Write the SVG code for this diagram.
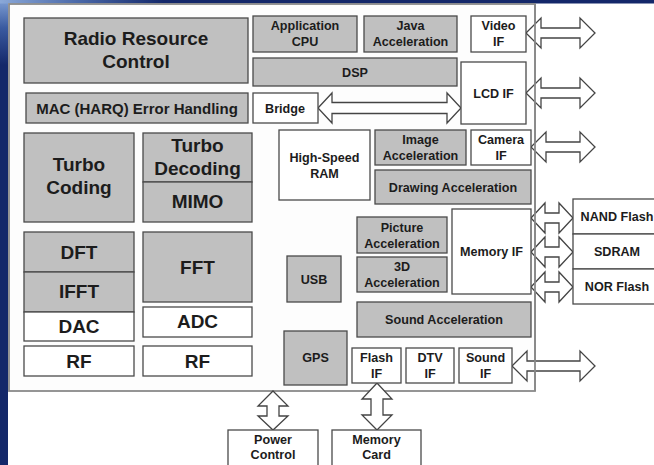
<svg xmlns="http://www.w3.org/2000/svg" width="654" height="465" viewBox="0 0 654 465">
<defs>
<linearGradient id="gLeft" x1="0" y1="0" x2="0" y2="1" gradientUnits="objectBoundingBox">
<stop offset="0" stop-color="#7f9fd4"/>
<stop offset="0.06" stop-color="#3a5aa0"/>
<stop offset="0.14" stop-color="#14286a"/>
<stop offset="1" stop-color="#14286a"/>
</linearGradient>
<linearGradient id="gTop" x1="0" y1="0" x2="1" y2="0">
<stop offset="0" stop-color="#8aa8d8"/>
<stop offset="0.12" stop-color="#4a68a8"/>
<stop offset="0.25" stop-color="#14286a"/>
<stop offset="1" stop-color="#14286a"/>
</linearGradient>
<style>
.g{fill:#c0c0c0;stroke:#4a4a4a;stroke-width:1.3}
.w{fill:#ffffff;stroke:#4a4a4a;stroke-width:1.3}
.ar{fill:#ffffff;stroke:#444444;stroke-width:1.3;stroke-linejoin:miter}
text{font-family:"Liberation Sans",Arial,sans-serif;font-weight:bold;fill:#1c1c1c;text-anchor:middle}
.b{font-size:19px}
.m{font-size:15px}
.s{font-size:12.6px}
</style>
</defs>
<rect x="0" y="0" width="654" height="465" fill="#ffffff"/>
<rect x="0" y="0" width="8" height="465" fill="url(#gLeft)"/>
<rect x="0" y="0" width="654" height="3.5" fill="url(#gTop)"/>
<rect x="9" y="4" width="526" height="387" fill="#fdfdfd" stroke="#8a8a8a" stroke-width="1.8"/>

<g id="connectors">
<path class="ar" d="M526 33 L541 18 L541 28 L580 28 L580 18 L595 33 L580 48 L580 38 L541 38 L541 48 Z"/>
<path class="ar" d="M526 93 L541 78 L541 88 L580 88 L580 78 L595 93 L580 108 L580 98 L541 98 L541 108 Z"/>
<path class="ar" d="M531 147 L546 132 L546 142 L580 142 L580 132 L595 147 L580 162 L580 152 L546 152 L546 162 Z"/>
<path class="ar" d="M512 366 L527 351 L527 361 L580 361 L580 351 L595 366 L580 381 L580 371 L527 371 L527 381 Z"/>
<path class="ar" d="M318 108 L332 93 L332 102.5 L447 102.5 L447 93 L461 108 L447 123 L447 113.5 L332 113.5 L332 123 Z"/>
<path class="ar" d="M531 218 L545 203 L545 213 L559 213 L559 203 L573 218 L559 233 L559 223 L545 223 L545 233 Z"/>
<path class="ar" d="M531 252 L545 237 L545 247 L559 247 L559 237 L573 252 L559 267 L559 257 L545 257 L545 267 Z"/>
<path class="ar" d="M531 287 L545 272 L545 282 L559 282 L559 272 L573 287 L559 302 L559 292 L545 292 L545 302 Z"/>
<path class="ar" d="M273 391 L288 406 L279 406 L279 416 L288 416 L273 430 L258 416 L267 416 L267 406 L258 406 Z"/>
<path class="ar" d="M377 383 L392 399 L383 399 L383 415 L392 415 L377 430 L362 415 L371 415 L371 399 L362 399 Z"/>
</g>
<line x1="535" y1="4" x2="535" y2="391" stroke="#8a8a8a" stroke-width="1.8"/>

<g id="rrc"><rect class="g" x="24" y="18" width="224" height="65"/><text class="b" x="136" y="45">Radio Resource</text><text class="b" x="136" y="68">Control</text></g>
<g id="mac"><rect class="g" x="26" y="93" width="222" height="30"/><text class="m" x="137" y="113.5">MAC (HARQ) Error Handling</text></g>
<g id="turbo-coding"><rect class="g" x="24" y="133" width="110" height="89"/><text class="b" x="79" y="171">Turbo</text><text class="b" x="79" y="194">Coding</text></g>
<g id="turbo-decoding"><rect class="g" x="143" y="133" width="109" height="49"/><text class="b" x="197.5" y="152">Turbo</text><text class="b" x="197.5" y="175">Decoding</text></g>
<g id="mimo"><rect class="g" x="143" y="182" width="109" height="40"/><text class="b" x="197.5" y="208">MIMO</text></g>
<g id="dft"><rect class="g" x="24" y="232" width="110" height="40"/><text class="b" x="79" y="258.5">DFT</text></g>
<g id="ifft"><rect class="g" x="24" y="272" width="110" height="40"/><text class="b" x="79" y="298">IFFT</text></g>
<g id="dac"><rect class="w" x="24" y="312" width="110" height="29"/><text class="b" x="79" y="332.5">DAC</text></g>
<g id="fft"><rect class="g" x="143" y="232" width="109" height="70"/><text class="b" x="197.5" y="273.5">FFT</text></g>
<g id="adc"><rect class="w" x="143" y="307" width="109" height="30"/><text class="b" x="197.5" y="327.5">ADC</text></g>
<g id="rf1"><rect class="w" x="24" y="346" width="110" height="30"/><text class="b" x="79" y="367.5">RF</text></g>
<g id="rf2"><rect class="w" x="143" y="346" width="109" height="30"/><text class="b" x="197.5" y="367.5">RF</text></g>

<g id="app-cpu"><rect class="g" x="253" y="16" width="104" height="36"/><text class="s" x="305" y="30">Application</text><text class="s" x="305" y="46">CPU</text></g>
<g id="java"><rect class="g" x="364" y="16" width="93" height="36"/><text class="s" x="410.5" y="30">Java</text><text class="s" x="410.5" y="46">Acceleration</text></g>
<g id="video-if"><rect class="w" x="471" y="16" width="55" height="36"/><text class="s" x="498.5" y="30">Video</text><text class="s" x="498.5" y="46">IF</text></g>
<g id="dsp"><rect class="g" x="253" y="58" width="204" height="28"/><text class="s" x="355" y="76.5">DSP</text></g>
<g id="lcd-if"><rect class="w" x="461" y="62" width="65" height="62"/><text class="s" x="493.5" y="97.5">LCD IF</text></g>
<g id="bridge"><rect class="w" x="253" y="93" width="65" height="30"/><text class="s" x="285" y="112.5">Bridge</text></g>
<g id="hs-ram"><rect class="w" x="279" y="130" width="91" height="70"/><text class="s" x="324.5" y="161.5">High-Speed</text><text class="s" x="324.5" y="177.5">RAM</text></g>
<g id="image-acc"><rect class="g" x="375" y="130" width="91" height="35"/><text class="s" x="420.5" y="144">Image</text><text class="s" x="420.5" y="160">Acceleration</text></g>
<g id="camera-if"><rect class="w" x="471" y="130" width="60" height="35"/><text class="s" x="501" y="144">Camera</text><text class="s" x="501" y="160">IF</text></g>
<g id="drawing-acc"><rect class="g" x="375" y="170" width="156" height="34"/><text class="s" x="453" y="191.5">Drawing Acceleration</text></g>
<g id="picture-acc"><rect class="g" x="357" y="217" width="90" height="36"/><text class="s" x="402" y="231.5">Picture</text><text class="s" x="402" y="247.5">Acceleration</text></g>
<g id="3d-acc"><rect class="g" x="357" y="257" width="90" height="35"/><text class="s" x="402" y="271">3D</text><text class="s" x="402" y="287">Acceleration</text></g>
<g id="memory-if"><rect class="w" x="452" y="209" width="79" height="85"/><text class="s" x="491.5" y="256">Memory IF</text></g>
<g id="usb"><rect class="g" x="287" y="256" width="54" height="46"/><text class="s" x="314" y="283.5">USB</text></g>
<g id="sound-acc"><rect class="g" x="357" y="302" width="174" height="35"/><text class="s" x="444" y="324">Sound Acceleration</text></g>
<g id="gps"><rect class="g" x="284" y="331" width="63" height="54"/><text class="s" x="315.5" y="362">GPS</text></g>
<g id="flash-if"><rect class="w" x="352" y="348" width="49" height="35"/><text class="s" x="376.5" y="362">Flash</text><text class="s" x="376.5" y="378">IF</text></g>
<g id="dtv-if"><rect class="w" x="406" y="348" width="48" height="35"/><text class="s" x="430" y="362">DTV</text><text class="s" x="430" y="378">IF</text></g>
<g id="sound-if"><rect class="w" x="459" y="348" width="53" height="35"/><text class="s" x="485.5" y="362">Sound</text><text class="s" x="485.5" y="378">IF</text></g>
<g id="nand-flash"><rect class="w" x="573" y="199" width="88" height="35"/><text class="s" x="617" y="221">NAND Flash</text></g>
<g id="sdram"><rect class="w" x="573" y="234" width="88" height="35"/><text class="s" x="617" y="256">SDRAM</text></g>
<g id="nor-flash"><rect class="w" x="573" y="269" width="88" height="35"/><text class="s" x="617" y="291">NOR Flash</text></g>
<g id="power-control"><rect class="w" x="228" y="430" width="90" height="40"/><text class="s" x="273" y="444">Power</text><text class="s" x="273" y="459">Control</text></g>
<g id="memory-card"><rect class="w" x="332" y="430" width="89" height="40"/><text class="s" x="376.5" y="444">Memory</text><text class="s" x="376.5" y="459">Card</text></g>
</svg>
